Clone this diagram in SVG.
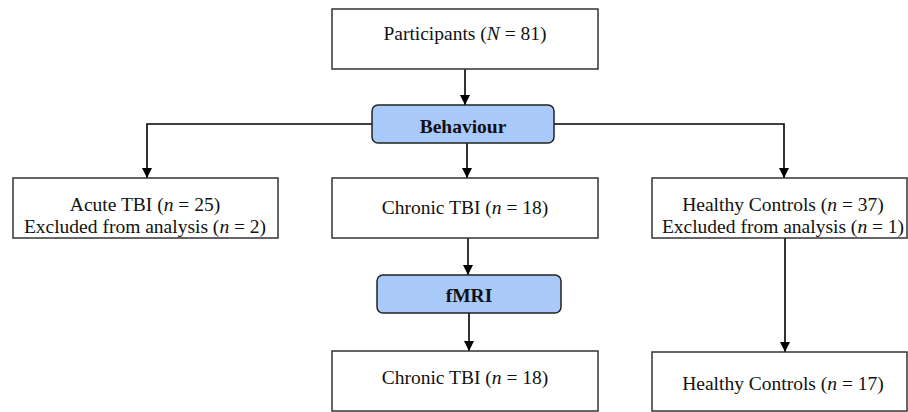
<svg xmlns="http://www.w3.org/2000/svg" width="908" height="412" viewBox="0 0 908 412">
<style>
.box{fill:#fff;stroke:#333;stroke-width:1.5}
.stage{fill:#a9c9fb;stroke:#222;stroke-width:1.5}
.t{font-family:"Liberation Serif","Times New Roman",serif;font-size:19.5px;fill:#111;text-anchor:middle}
.b{font-weight:bold}
.ln{fill:none;stroke:#000;stroke-width:1.6}
</style>
<defs>
<marker id="ah" viewBox="0 0 10 10" refX="10" refY="5" markerWidth="10" markerHeight="10" markerUnits="userSpaceOnUse" orient="auto">
<path d="M0,0 L10,5 L0,10 Z" fill="#000"/>
</marker>
</defs>
<rect width="908" height="412" fill="#fff"/>
<g id="connectors">
<path class="ln" d="M465,69 V105" marker-end="url(#ah)"/>
<path class="ln" d="M372,124 H147 V178" marker-end="url(#ah)"/>
<path class="ln" d="M554,124 H784 V178" marker-end="url(#ah)"/>
<path class="ln" d="M467,143 V178" marker-end="url(#ah)"/>
<path class="ln" d="M468,238 V275" marker-end="url(#ah)"/>
<path class="ln" d="M469,313 V351" marker-end="url(#ah)"/>
<path class="ln" d="M785,238 V352" marker-end="url(#ah)"/>
</g>
<g id="participants">
<rect class="box" x="332" y="9" width="266" height="60"/>
<text class="t" x="465" y="40">Participants (<tspan font-style="italic">N</tspan> = 81)</text>
</g>
<g id="behaviour">
<rect class="stage" x="372" y="105" width="182" height="38" rx="6"/>
<text class="t b" x="463" y="133">Behaviour</text>
</g>
<g id="acute">
<rect class="box" x="13" y="178" width="265" height="60"/>
<text class="t" x="145" y="211">Acute TBI (<tspan font-style="italic">n</tspan> = 25)</text>
<text class="t" x="145" y="233">Excluded from analysis (<tspan font-style="italic">n</tspan> = 2)</text>
</g>
<g id="chronic1">
<rect class="box" x="332" y="178" width="266" height="60"/>
<text class="t" x="465" y="214">Chronic TBI (<tspan font-style="italic">n</tspan> = 18)</text>
</g>
<g id="healthy1">
<rect class="box" x="652" y="178" width="255" height="60"/>
<text class="t" x="783" y="211">Healthy Controls (<tspan font-style="italic">n</tspan> = 37)</text>
<text class="t" x="783" y="233">Excluded from analysis (<tspan font-style="italic">n</tspan> = 1)</text>
</g>
<g id="fmri">
<rect class="stage" x="377" y="275" width="184" height="38" rx="6"/>
<text class="t b" x="469" y="302">fMRI</text>
</g>
<g id="chronic2">
<rect class="box" x="332" y="351" width="266" height="60"/>
<text class="t" x="465" y="384">Chronic TBI (<tspan font-style="italic">n</tspan> = 18)</text>
</g>
<g id="healthy2">
<rect class="box" x="652" y="352" width="255" height="59"/>
<text class="t" x="783" y="390">Healthy Controls (<tspan font-style="italic">n</tspan> = 17)</text>
</g>
</svg>
